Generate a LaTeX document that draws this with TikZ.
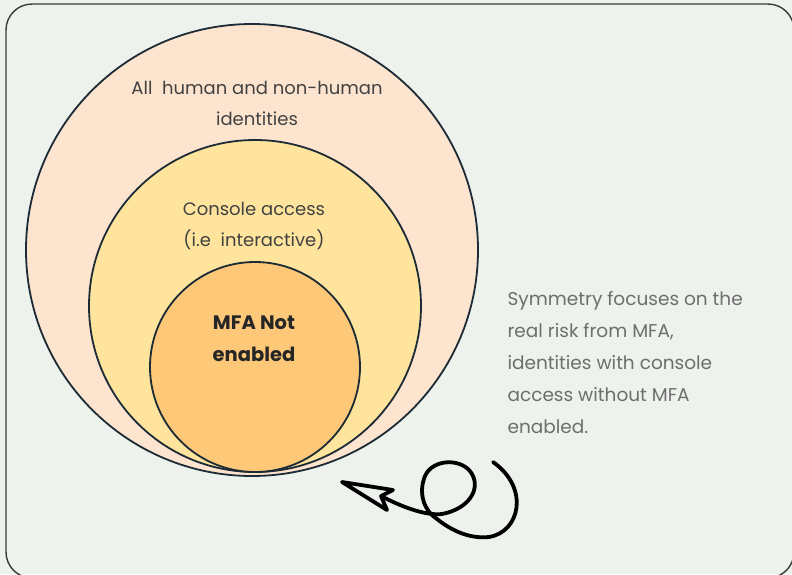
\documentclass[tikz,border=0pt]{standalone}
\usepackage{fontspec}
\setmainfont{Poppins}
\definecolor{bgcol}{HTML}{EDF2EC}
\definecolor{framecol}{HTML}{3A3A3A}
\definecolor{ringcol}{HTML}{1C2B36}
\definecolor{allfill}{HTML}{FCE4CF}
\definecolor{consolefill}{HTML}{FEE49C}
\definecolor{mfafill}{HTML}{FDC878}
\definecolor{labelcol}{HTML}{424242}
\definecolor{notecol}{HTML}{6E6E6E}
\tikzset{
  ring/.style={draw=ringcol, circle, line width=1.8pt, inner sep=0pt},
  ringlabel/.style={align=center, text=labelcol, font=\fontsize{18}{31}\selectfont},
  notelabel/.style={align=left, anchor=north west, text=notecol, font=\fontsize{18.5}{32}\selectfont},
  squiggle/.style={line width=3.8pt, line cap=round, line join=round, draw=black}
}
\begin{document}
\begin{tikzpicture}[x=1pt, y=-1pt]
\useasboundingbox (0,0) rectangle (792,574);
\fill[bgcol] (0,0) rectangle (792,574);
\draw[framecol, line width=1.4pt, rounded corners=26pt] (6,4) rectangle (794,578);

\node[ring, fill=allfill, minimum size=452pt] (all) at (252,250) {};
\node[ring, fill=consolefill, minimum size=332pt] (console) at (255,306) {};
\node[ring, fill=mfafill, minimum size=210pt] (mfa) at (255,367) {};

\node[ringlabel] (alltext) at (257,103) {All\ \ human and non-human\\identities};
\node[ringlabel] (consoletext) at (254,226) {Console access\\(i.e\ \ interactive)};
\node[ringlabel, text=black!85, font=\bfseries\fontsize{19.5}{32}\selectfont] (mfatext) at (254,339) {MFA Not\\enabled};

\node[notelabel] (note) at (504,288) {Symmetry focuses on the\\real risk from MFA,\\identities with console\\access without MFA\\enabled.};

% hand drawn pointer
\coordinate (tip) at (342,482);
\coordinate (barbup) at (393,490);
\coordinate (notch) at (381,496);
\coordinate (barbdown) at (387,510);
\coordinate (tailend) at (493,462);
\draw[squiggle] (tip) -- (barbup) -- (notch) -- (barbdown) -- cycle;
\draw[squiggle] (notch) .. controls (400,506) and (425,516) .. (442,514)
  .. controls (468,509) and (481,490) .. (472,474)
  .. controls (463,458) and (433,458) .. (425,476)
  .. controls (418,493) and (424,511) .. (437,519)
  .. controls (452,531) and (470,539) .. (489,537)
  .. controls (520,532) and (530,488) .. (tailend);
\end{tikzpicture}
\end{document}
